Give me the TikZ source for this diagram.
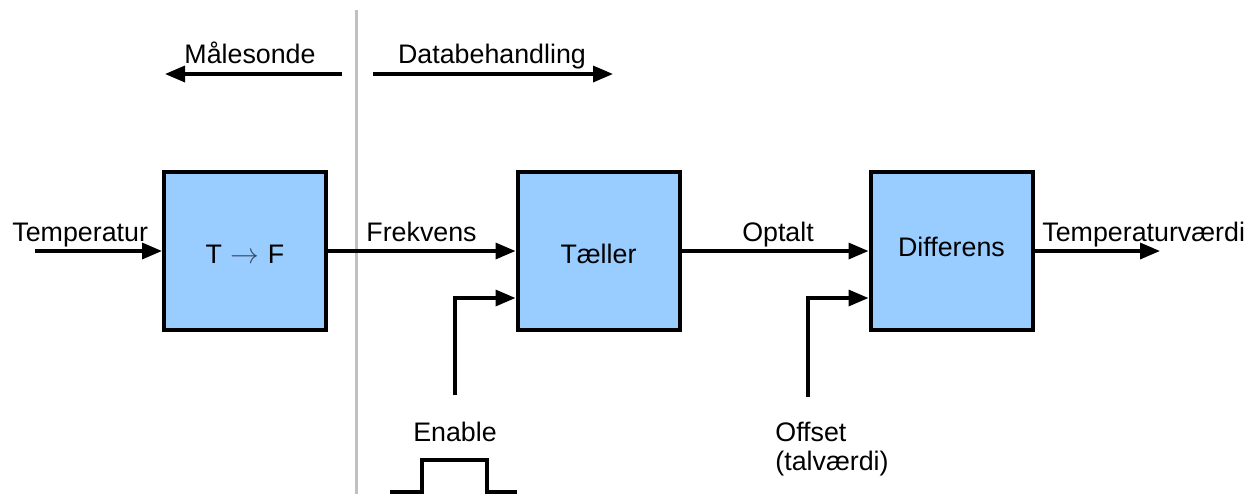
\documentclass[tikz,border=0pt]{standalone}
\usepackage{fontspec}
\setmainfont{Liberation Sans}
\usetikzlibrary{arrows.meta}
\definecolor{boxfill}{HTML}{99CCFF}
\definecolor{divider}{HTML}{C0C0C0}
\definecolor{arrowink}{HTML}{3A4A66}
\tikzset{
  block/.style={draw, line width=2pt, fill=boxfill, minimum width=81pt, minimum height=79pt, inner sep=0pt,
    text height=9.6pt, text depth=0pt, font=\fontsize{13.4}{15}\selectfont},
  signal/.style={line width=1.7pt, -{Triangle[length=10pt,width=8pt]}},
  wire/.style={line width=1.7pt},
  lbl/.style={font=\fontsize{13.4}{15}\selectfont, inner sep=0pt},
}
\begin{document}
\begin{tikzpicture}[x=0.5pt,y=-0.5pt]
\useasboundingbox (0,0) rectangle (1259,494);

% separator between probe and data processing
\draw[divider, line width=1.5pt] (356,10) -- (356,494);

% region arrows
\coordinate (mL1) at (342,74); \coordinate (mL2) at (165,74);
\coordinate (dR1) at (373,74); \coordinate (dR2) at (613,74);
\draw[signal] (mL1) -- (mL2);
\draw[signal] (dR1) -- (dR2);
\node[lbl, anchor=base] (malesonde) at (250,63) {Målesonde};
\node[lbl, anchor=base] (databeh) at (492,63) {Databehandling};

% blocks
\node[block] (tf) at (245,251) {\raisebox{-1.2pt}{T\hspace{4pt}{\color{arrowink}$\rightarrow$}\hspace{4.5pt}F}};
\node[block] (taeller) at (598.5,251) {\raisebox{-1.2pt}{Tæller}};
\node[block] (diff) at (951.5,251) {\raisebox{2.3pt}{Differens}};

% input / output
\coordinate (tin) at (35,251);
\coordinate (tout) at (1160,251);
\draw[signal] (tin) -- (tf.west);
\draw[signal] (tf.east) -- (taeller.west);
\draw[signal] (taeller.east) -- (diff.west);
\draw[signal] (diff.east) -- (tout);

\node[lbl, anchor=base west] (ltemp) at (12,241) {Temperatur};
\node[lbl, anchor=base west] (lfrek) at (366,241) {Frekvens};
\node[lbl, anchor=base] (lopt) at (778,241) {Optalt};
\node[lbl, anchor=base west] (lval) at (1042,241) {Temperaturværdi};

% enable input
\coordinate (en0) at (455,395);
\coordinate (en1) at (455,298);
\draw[signal] (en0) -- (en1) -- (taeller.west |- en1);
\node[lbl, anchor=base] (lenable) at (455,441) {Enable};
\coordinate (p0) at (390,492); \coordinate (p1) at (422,492);
\coordinate (p2) at (422,460); \coordinate (p3) at (487,460);
\coordinate (p4) at (487,492); \coordinate (p5) at (517,492);
\draw[wire] (p0) -- (p1) -- (p2) -- (p3) -- (p4) -- (p5);

% offset input
\coordinate (of0) at (808,397);
\coordinate (of1) at (808,298);
\draw[signal] (of0) -- (of1) -- (diff.west |- of1);
\node[lbl, anchor=base west] (loffset) at (775,441) {Offset};
\node[lbl, anchor=base west] (ltalv) at (775,470) {(talværdi)};
\end{tikzpicture}
\end{document}
